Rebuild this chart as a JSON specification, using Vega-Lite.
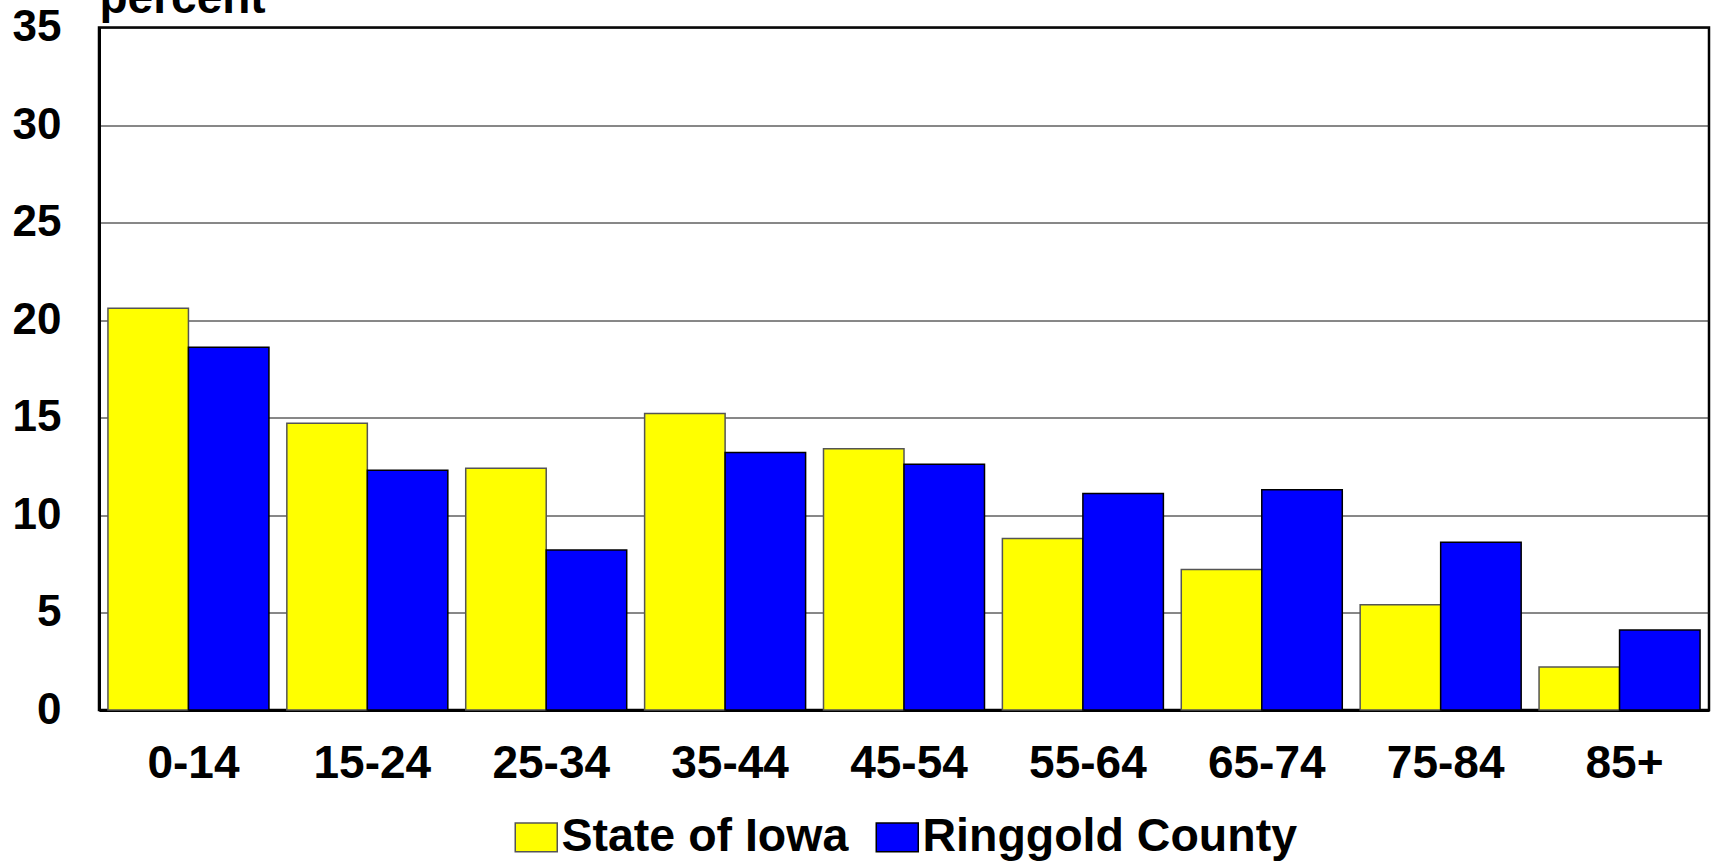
{
  "$schema": "https://vega.github.io/schema/vega-lite/v6.json",
  "autosize": "none",
  "width": 1610,
  "height": 682.5,
  "padding": {"left": 99, "top": 27.5, "right": 2, "bottom": 152},
  "background": "white",
  "config": {
    "font": "Liberation Sans",
    "view": {"stroke": "#000", "strokeWidth": 2.5}
  },
  "data": {
    "values": [
      {"age": "0-14", "series": "State of Iowa", "pct": 20.6},
      {"age": "0-14", "series": "Ringgold County", "pct": 18.6},
      {"age": "15-24", "series": "State of Iowa", "pct": 14.7},
      {"age": "15-24", "series": "Ringgold County", "pct": 12.3},
      {"age": "25-34", "series": "State of Iowa", "pct": 12.4},
      {"age": "25-34", "series": "Ringgold County", "pct": 8.2},
      {"age": "35-44", "series": "State of Iowa", "pct": 15.2},
      {"age": "35-44", "series": "Ringgold County", "pct": 13.2},
      {"age": "45-54", "series": "State of Iowa", "pct": 13.4},
      {"age": "45-54", "series": "Ringgold County", "pct": 12.6},
      {"age": "55-64", "series": "State of Iowa", "pct": 8.8},
      {"age": "55-64", "series": "Ringgold County", "pct": 11.1},
      {"age": "65-74", "series": "State of Iowa", "pct": 7.2},
      {"age": "65-74", "series": "Ringgold County", "pct": 11.3},
      {"age": "75-84", "series": "State of Iowa", "pct": 5.4},
      {"age": "75-84", "series": "Ringgold County", "pct": 8.6},
      {"age": "85+", "series": "State of Iowa", "pct": 2.2},
      {"age": "85+", "series": "Ringgold County", "pct": 4.1}
    ]
  },
  "mark": {"type": "bar", "strokeWidth": 1.5},
  "encoding": {
    "x": {
      "field": "age",
      "type": "nominal",
      "sort": null,
      "scale": {"paddingInner": 0.1, "paddingOuter": 0.05},
      "axis": {
        "title": null,
        "labelAngle": 0,
        "labelFont": "Liberation Sans",
        "labelFontSize": 46,
        "labelFontWeight": "bold",
        "labelColor": "#000",
        "labelPadding": 31,
        "labelOffset": 5,
        "ticks": false,
        "tickSize": 0,
        "domainColor": "#000",
        "domainWidth": 3,
        "grid": false
      }
    },
    "xOffset": {
      "field": "series",
      "type": "nominal",
      "sort": ["State of Iowa", "Ringgold County"],
      "scale": {"paddingInner": 0, "paddingOuter": 0}
    },
    "y": {
      "field": "pct",
      "type": "quantitative",
      "scale": {"domain": [0, 35], "nice": false},
      "axis": {
        "title": "percent",
        "titleAngle": 0,
        "titleX": 0,
        "titleY": -15.5,
        "titleAlign": "left",
        "titleBaseline": "alphabetic",
        "titleFont": "Liberation Sans",
        "titleFontSize": 46,
        "titleFontWeight": "bold",
        "titleColor": "#000",
        "values": [0, 5, 10, 15, 20, 25, 30, 35],
        "labelFont": "Liberation Sans",
        "labelFontSize": 44,
        "labelFontWeight": "bold",
        "labelColor": "#000",
        "labelPadding": 38,
        "ticks": false,
        "tickSize": 0,
        "domainColor": "#000",
        "domainWidth": 3,
        "grid": true,
        "gridColor": "#111",
        "gridWidth": 1
      }
    },
    "color": {
      "field": "series",
      "type": "nominal",
      "scale": {"domain": ["State of Iowa", "Ringgold County"], "range": ["#FFFF00", "#0000FF"]},
      "legend": {
        "title": null,
        "orient": "none",
        "legendX": 414,
        "legendY": 786.5,
        "direction": "horizontal",
        "labelFont": "Liberation Sans",
        "labelFontSize": 46.5,
        "labelFontWeight": "bold",
        "labelColor": "#000",
        "labelLimit": 0,
        "labelOffset": 2,
        "columnPadding": 24,
        "symbolType": "M-1,-0.69H1V0.69H-1Z",
        "symbolSize": 1764,
        "symbolStrokeWidth": 1.5
      }
    },
    "stroke": {
      "field": "series",
      "type": "nominal",
      "scale": {"domain": ["State of Iowa", "Ringgold County"], "range": ["#555555", "#000000"]},
      "legend": {
        "title": null,
        "orient": "none",
        "legendX": 414,
        "legendY": 786.5,
        "direction": "horizontal",
        "labelFont": "Liberation Sans",
        "labelFontSize": 46.5,
        "labelFontWeight": "bold",
        "labelColor": "#000",
        "labelLimit": 0,
        "labelOffset": 2,
        "columnPadding": 24,
        "symbolType": "M-1,-0.69H1V0.69H-1Z",
        "symbolSize": 1764,
        "symbolStrokeWidth": 1.5
      }
    }
  }
}
